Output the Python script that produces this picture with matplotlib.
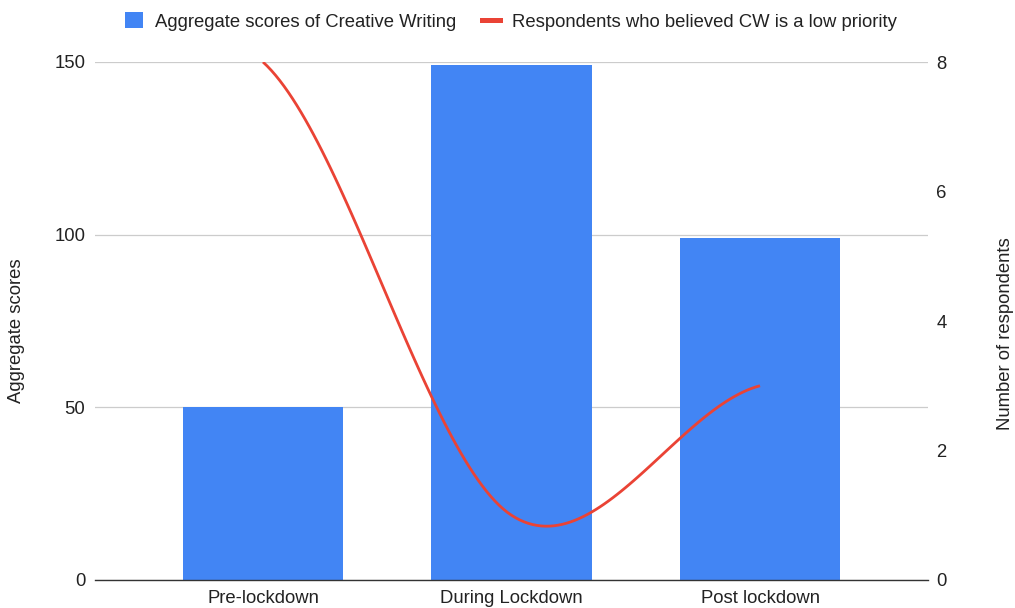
import numpy as np
import matplotlib
matplotlib.use("Agg")
import matplotlib.pyplot as plt
from matplotlib.patches import Patch
from matplotlib.lines import Line2D

plt.rcParams['font.family'] = ['Liberation Sans', 'DejaVu Sans']

categories = ["Pre-lockdown", "During Lockdown", "Post lockdown"]
aggregate_scores = [50, 149, 99]
low_priority_respondents = [8, 1, 3]

BAR_COLOR = "#4285F4"
LINE_COLOR = "#EA4335"
TEXT_COLOR = "#222222"
FS = 13.3


def smooth_curve(xs, ys, samples=60):
    """Cubic Hermite curve with Catmull-Rom style tangents."""
    xs = np.asarray(xs, float)
    ys = np.asarray(ys, float)
    n = len(ys)
    m = np.zeros(n)
    for i in range(n):
        lo = max(i - 1, 0)
        hi = min(i + 1, n - 1)
        m[i] = (ys[hi] - ys[lo]) / 2.0
    out_x, out_y = [], []
    for i in range(n - 1):
        t = np.linspace(0, 1, samples)
        h00 = 2 * t**3 - 3 * t**2 + 1
        h10 = t**3 - 2 * t**2 + t
        h01 = -2 * t**3 + 3 * t**2
        h11 = t**3 - t**2
        seg = h00 * ys[i] + h10 * m[i] + h01 * ys[i + 1] + h11 * m[i + 1]
        out_x.append(xs[i] + t * (xs[i + 1] - xs[i]))
        out_y.append(seg)
    return np.concatenate(out_x), np.concatenate(out_y)


W, H = 1015, 608
fig = plt.figure(figsize=(W / 100, H / 100), dpi=100)
ax = fig.add_axes([95 / W, 28 / H, 833 / W, 518 / H])
x = np.arange(len(categories))

ax.bar(x, aggregate_scores, width=0.645, color=BAR_COLOR, zorder=2)
ax.set_xlim(-0.676, 2.676)
ax.set_ylim(0, 150)
ax.set_yticks([0, 50, 100, 150])
ax.set_xticks(x)
ax.set_xticklabels(categories)
for lbl in ax.get_xticklabels():
    lbl.set_verticalalignment("baseline")
ax.yaxis.grid(True, color="#cccccc", linewidth=0.9)
ax.set_axisbelow(True)
for side in ("top", "right", "left"):
    ax.spines[side].set_visible(False)
ax.spines["bottom"].set_color("#333333")
ax.spines["bottom"].set_linewidth(1.0)
ax.tick_params(axis="both", length=0, labelsize=FS, colors=TEXT_COLOR)
ax.tick_params(axis="y", pad=7)
ax.tick_params(axis="x", pad=16.5)

ax2 = ax.twinx()
cx, cy = smooth_curve(x, low_priority_respondents)
ax2.plot(cx, cy, color=LINE_COLOR, linewidth=2.0, solid_capstyle="butt", zorder=3)
ax2.set_ylim(0, 8)
ax2.set_yticks([0, 2, 4, 6, 8])
for side in ("top", "right", "left", "bottom"):
    ax2.spines[side].set_visible(False)
ax2.tick_params(axis="y", length=0, labelsize=FS, colors=TEXT_COLOR, pad=6)

fig.text(17 / W, 1 - 331 / H, "Aggregate scores", rotation=90, ha="center",
         va="center", fontsize=FS, color=TEXT_COLOR)
fig.text(1006 / W, 1 - 334 / H, "Number of respondents", rotation=90,
         ha="center", va="center", fontsize=FS, color=TEXT_COLOR)

handles = [
    Patch(facecolor=BAR_COLOR, edgecolor="none"),
    Line2D([0], [0], color=LINE_COLOR, linewidth=3.6),
]
labels = ["Aggregate scores of Creative Writing",
          "Respondents who believed CW is a low priority"]
fig.legend(handles, labels, loc="center", bbox_to_anchor=(511 / W, 1 - 21.5 / H),
           ncol=2, frameon=False, fontsize=FS, handlelength=0.97,
           handleheight=0.97, handletextpad=0.67, columnspacing=1.39,
           labelcolor=TEXT_COLOR, borderpad=0, borderaxespad=0)

fig.savefig("out.png", dpi=100)
